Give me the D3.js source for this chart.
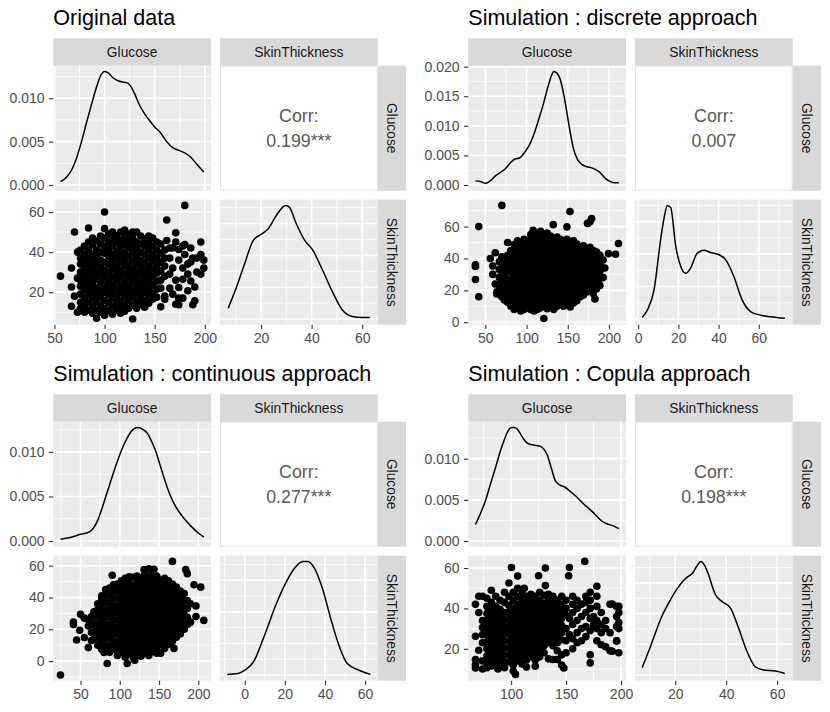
<!DOCTYPE html>
<html>
<head>
<meta charset="utf-8">
<script src="https://cdn.jsdelivr.net/npm/d3@7"></script>
<style>
  body { margin: 0; background: #fff; }
</style>
</head>
<body>
<svg id="chart" width="830" height="712"></svg>
<script>
/* ---------------- data ---------------- */
const varNames = ['Glucose', 'SkinThickness'];
const titles = ['Original data', 'Simulation : discrete approach',
                'Simulation : continuous approach', 'Simulation : Copula approach'];
const corrLabels = ['0.199***', '0.007', '0.277***', '0.198***'];

const glucoseTicks = [[50, 100, 150, 200], [50, 100, 150, 200], [50, 100, 150, 200], [100, 150, 200]];
const skinTicks    = [[20, 40, 60], [0, 20, 40, 60], [0, 20, 40, 60], [20, 40, 60]];
const densTicks    = [[0, 0.005, 0.010], [0, 0.005, 0.010, 0.015, 0.020], [0, 0.005, 0.010], [0, 0.005, 0.010]];

// scatter points, one row per Glucose value: [glucose, skin, skin, ...]
const origPts = [
  [56, 28], [67, 32, 22.6, 13], [70, 50, 18], [73, 40, 10, 27],
  [76, 41, 37, 34, 30, 26, 23, 19, 15, 12],
  [80, 43, 39, 35.5, 32, 28, 24.5, 21, 17, 13.5, 10],
  [84, 52, 45, 41, 37, 33.5, 30, 26, 22.5, 19, 15, 11],
  [88, 47, 43.5, 39, 35, 31.5, 28, 24, 20.5, 17, 13, 9.5],
  [92, 45.5, 41, 37.5, 34, 30, 26.5, 22, 18.5, 15, 11, 7],
  [96, 48, 44, 40, 36, 32.5, 29, 25, 21, 17.5, 13.5, 10],
  [100, 60, 51.7, 47, 43, 39.5, 35, 31, 27.5, 23.5, 20, 16, 12, 8.5],
  [104, 49, 45, 41.5, 38, 34, 30, 26, 22.5, 19, 15, 11],
  [108, 50, 46.5, 43, 39, 35.5, 32, 28, 24, 20.5, 17, 13, 9],
  [112, 48, 44.5, 40.5, 37, 33, 29.5, 26, 22, 18, 14.5, 11],
  [116, 50, 46, 42.5, 39, 35, 31, 27.5, 23.5, 20, 16, 12.5, 9.5],
  [120, 51, 47.5, 44, 40, 36.5, 33, 29, 25, 21.5, 18, 14, 10.5],
  [124, 49, 45.5, 42, 38, 34, 30.5, 27, 23, 19.5, 16, 12],
  [128, 50, 47, 43.5, 40, 36, 32, 28.5, 25, 21, 17.5, 13.5, 6.6],
  [132, 50, 45, 41.5, 38, 34.5, 30.5, 27, 23, 19.5, 15.5, 12],
  [136, 48, 44, 40, 36, 32.5, 29, 25, 21.5, 17.5, 14],
  [140, 46.5, 43, 39, 35, 31, 27.5, 23.5, 20, 16, 12.5],
  [144, 48, 44.5, 41, 37, 33, 29.5, 25.5, 22, 18, 14.5],
  [148, 47, 43, 39, 35.5, 31.5, 28, 24, 20, 16.5],
  [152, 45, 41, 37, 33, 29.5, 25.5, 21.5, 17.5],
  [156, 44, 39.5, 35, 30.5, 26, 22, 12.7],
  [160, 41, 37, 33, 28, 18, 16.5], [162, 56, 45.8], [165, 42, 37, 29, 22],
  [168, 32, 42, 19], [171, 49.6, 45, 26, 14], [174, 41.3, 36, 22.3, 13.7, 17],
  [178, 43, 32, 26.4, 17], [180, 63.3, 43.8, 38.8], [183, 29, 34, 20.7],
  [186, 42, 25.6, 35], [188, 13.7, 37], [190, 22.6, 15.7], [192, 37, 30],
  [196, 45, 38.8, 29], [199, 32, 36]
];
const discPts = [
  [38, 36, 35, 26.8], [42, 60, 16], [56, 40], [59, 35.3, 30], [62, 43.6, 24], [64, 17.7, 19],
  [67, 38, 33, 28, 22.5],
  [70, 73.3, 41, 36, 31, 26, 20, 16],
  [73, 39, 34, 29, 24, 18.5, 14],
  [77, 50, 42, 37, 32, 27, 22, 17, 12.5],
  [81, 45, 40.5, 36, 31.5, 27, 22.5, 18, 13.5, 10],
  [85, 48.8, 44, 39, 34.5, 30, 25.5, 21, 16.5, 12, 8],
  [89, 51, 46.5, 42, 37.5, 33, 28.5, 24, 19.5, 15, 11],
  [93, 49, 44.5, 40, 35.5, 31, 26.5, 22, 17.5, 13, 9, 7],
  [97, 52, 47.5, 43, 38.5, 34, 29.5, 25, 20.5, 16, 11.5, 8],
  [101, 50, 45.5, 41, 36.5, 32, 27.5, 23, 18.5, 14, 10],
  [105, 55, 52, 48, 43.5, 39, 34.5, 30, 25.5, 21, 16.5, 12, 8],
  [108, 57.7],
  [109, 53.5, 50, 45.5, 41, 36.5, 32, 27.5, 23, 18.5, 14, 10, 7],
  [113, 55, 51.5, 47, 43, 38.5, 34, 29.5, 25, 20.5, 16, 11.5, 8],
  [117, 57, 53, 49, 44.5, 40, 35.5, 31, 26.5, 22, 17.5, 13, 9],
  [121, 55, 51, 46.5, 42, 37.5, 33, 28.5, 24, 19.5, 15, 10.5, 2.3],
  [125, 56, 52.5, 48, 44, 39.5, 35, 30.5, 26, 21.5, 17, 12.5, 8.5],
  [129, 54, 50, 45.5, 41, 36.5, 32, 27.5, 23, 18.5, 14, 10],
  [132.4, 61.2],
  [133, 52, 48, 43.5, 39, 34.5, 30, 25.5, 21, 16.5, 12, 8],
  [137, 53.5, 50, 45.5, 41, 36.5, 32, 27.5, 23, 18.5, 14, 10],
  [141, 52, 47.5, 43, 38.5, 34, 29.5, 25, 20.5, 16, 11.5],
  [145, 50, 45.5, 41, 36.5, 32, 27.5, 23, 18.5, 14, 10],
  [149, 59.8, 52, 47.5, 43, 38.5, 34, 29.5, 25, 20.5, 16, 12],
  [152.7, 69.5],
  [153, 50, 45.5, 41, 36.5, 32, 27.5, 23, 18.5, 14, 9.5],
  [157, 51, 47.5, 43, 38.5, 34, 29.5, 25, 20.5, 16, 12],
  [161, 49, 44.5, 40, 35.5, 31, 26.5, 22, 17.5, 13.5],
  [165, 47, 42.5, 38, 33.5, 29, 24.5, 20, 16],
  [169, 48, 44, 39.5, 35, 30.5, 26, 21.5, 17],
  [173, 46, 41.5, 37, 32.5, 28, 23.5, 19], [174, 62],
  [177, 63, 47, 43, 38.5, 34, 29.5, 25, 20.5], [179, 65],
  [181, 45, 40.5, 36, 31.5, 27, 22.5, 18], [183, 14.6],
  [185, 44, 39, 34.5, 30, 25.5, 21],
  [189, 42, 37, 32, 27.5, 23], [193, 39, 34, 28], [195, 34],
  [199.4, 43], [208, 42.6], [211.6, 49.4]
];
const contPts = [
  [24.5, -8.75], [41, 24.6, 23], [45, 13.3], [49, 19.4], [50, 29.4], [55, 14.8, 27],
  [60, 8.5, 22, 26], [64, 18, 28, 13, 23],
  [67, 14, 18.5, 23, 27.5, 31],
  [72, 10, 14.5, 19, 23.5, 28, 32.5, 36],
  [77, 7.5, 12, 16.5, 21, 25.5, 30, 34.5, 39, 41],
  [80, 5.4],
  [82, 9.5, 14, 18.5, 23, 27.5, 32, 36.5, 41, 45],
  [84, -1.5],
  [87, 5.5, 10, 14.5, 19, 23.5, 28, 32.5, 37, 41.5, 46],
  [90.4, 54],
  [92, 7.5, 12, 16.5, 21, 25.5, 30, 34.5, 39, 43.5, 48],
  [97, 3.5, 8, 12.5, 17, 21.5, 26, 30.5, 35, 39.5, 44, 48.5],
  [102, 5.5, 10, 14.5, 19, 23.5, 28, 32.5, 37, 41.5, 46, 50.5],
  [107, 2.5, 7, 11.5, 16, 20.5, 25, 29.5, 34, 38.5, 43, 47.5, 52],
  [109.5, -1.5],
  [112, 4.5, 9, 13.5, 18, 22.5, 27, 31.5, 36, 40.5, 45, 49.5, 53],
  [116, 52.7],
  [117, 2.5, 7, 11.5, 16, 20.5, 25, 29.5, 34, 38.5, 43, 47.5],
  [119, 0.6],
  [122, 4.5, 9, 13.5, 18, 22.5, 27, 31.5, 36, 40.5, 45, 49.5, 53.5],
  [127, 3, 7.5, 12, 16.5, 21, 25.5, 30, 34.5, 39, 43.5, 48, 52.5],
  [131, 57.5],
  [132, 5, 9.5, 14, 18.5, 23, 27.5, 32, 36.5, 41, 45.5, 50, 54.5],
  [137, 58, 3.5, 8, 12.5, 17, 21.5, 26, 30.5, 35, 39.5, 44, 48.5, 53],
  [142, 6, 10.5, 15, 19.5, 24, 28.5, 33, 37.5, 42, 46.5, 51, 55],
  [143.5, 57.7],
  [147, 5, 8.5, 13, 17.5, 22, 26.5, 31, 35.5, 40, 44.5, 49, 53.5],
  [152, 5, 10.5, 15, 19.5, 24, 28.5, 33, 37.5, 42, 46.5, 51],
  [157, 8, 12.5, 17, 21.5, 26, 30.5, 35, 39.5, 44, 48.5, 52],
  [162, 10.5, 15, 19.5, 24, 28.5, 33, 37.5, 42, 46.5, 50.5],
  [167, 62.7, 12.5, 17, 21.5, 26, 30.5, 35, 39.5, 44, 48.5],
  [169, 8],
  [172, 15, 19.5, 24, 28.5, 33, 37.5, 42, 46.5],
  [177, 17, 21.5, 26, 30.5, 35, 39.5, 44],
  [182, 20, 24.5, 29, 33.5, 38, 42.5],
  [184, 57.5], [186, 55, 23, 27.5, 33, 38], [190, 36, 24.5], [194.5, 48],
  [197, 28, 34.6], [203, 46.5], [207, 25.6]
];
const copPts = [
  [67.6, 42, 26.2, 14.7, 12.2, 10.5], [70.6, 46, 38, 19.3],
  [74, 46, 34, 30.5, 27, 23, 14, 10],
  [78, 45, 41, 37.5, 34, 30.5, 27, 23.5, 20, 16.5, 13, 10.6],
  [82, 49, 43, 39.5, 36, 32.5, 29, 25.5, 22, 18.5, 15, 11.5],
  [86, 46, 41, 37.5, 34, 30.5, 27, 23.5, 20, 16.5, 13],
  [88, 10],
  [90, 44, 39.5, 36, 32.5, 29, 25.5, 22, 18.5, 15, 11.5],
  [94, 48, 43, 38, 34.5, 31, 27.5, 24, 20.5, 17, 13.5, 10.6],
  [98, 52.6, 46, 41.5, 38, 34.5, 31, 27.5, 24, 20.5, 17, 13.5],
  [100.3, 60.3],
  [102, 48, 44, 40, 36.5, 33, 29.5, 26, 22.5, 19, 15.5, 12, 9],
  [104, 7.3],
  [106, 56, 50, 46, 42, 38.5, 35, 31.5, 28, 24.5, 21, 17.5, 14],
  [110, 47.5, 44, 40.5, 37, 33.5, 30, 26.5, 23, 19.5, 16, 12.5],
  [112, 50],
  [114, 46, 42.5, 39, 35.5, 32, 28.5, 25, 21.5, 18, 14.5, 11],
  [118, 47, 44, 40.5, 37, 33.5, 30, 26.5, 23, 19.5, 16],
  [122, 46, 42.5, 39, 35.5, 32, 28.5, 25, 21.5, 18, 14.5, 11.4],
  [125, 56.2],
  [126, 48, 44, 40.5, 37, 33.5, 30, 26.5, 23, 19.5, 16],
  [130, 46.5, 42.5, 39, 35.5, 32, 28.5, 25, 21.5, 18],
  [131.2, 60, 51.3],
  [134, 47, 44, 40.5, 37, 33.5, 30, 26.5, 23, 15],
  [138, 46, 42.5, 39, 35.5, 32, 28.5, 25, 21.5, 14.7],
  [142, 44, 40.5, 37, 33.5, 30, 26.5, 23, 19, 14.7],
  [146, 46, 42, 38.5, 35, 31.5, 28, 24.5, 17, 12],
  [148, 10.5], [150, 44, 40, 36.5, 30, 24, 18], [152.4, 56.2], [153, 60.3, 35, 27],
  [156, 46, 42, 38, 32, 25, 20], [160, 44, 40, 34, 28, 23], [164, 42, 36, 30, 24],
  [167, 63.3], [168, 46, 43, 38, 31, 26], [172, 48, 44, 40, 35, 29, 17, 13], [175, 36, 32],
  [178, 51, 46, 41, 34, 30, 24], [182, 38, 32, 28, 22], [186, 34, 30, 21], [190, 42, 28, 19],
  [192, 42.2, 18.8], [196, 41, 36, 31, 24, 23.8], [198, 41, 38, 33, 30, 18]
];

// density curves: [value, density]
const origGlucoseDens = [
  [56, 0.0004], [62, 0.0009], [67, 0.0017], [72, 0.0031], [77, 0.005], [82, 0.0072], [87, 0.0093],
  [92, 0.0113], [96, 0.0126], [100, 0.0131], [104, 0.0129], [108, 0.0124], [112, 0.0121], [117, 0.0119],
  [122, 0.0118], [126, 0.0114], [130, 0.0105], [135, 0.0092], [140, 0.0082], [145, 0.0074], [150, 0.0067],
  [156, 0.006], [162, 0.005], [168, 0.0043], [174, 0.004], [180, 0.0037], [186, 0.0032], [192, 0.0024], [199, 0.0015]
];
const origSkinDens = [
  [7, 0.0034], [9.9, 0.0092], [13.1, 0.0164], [17, 0.0248], [20.3, 0.0267], [22.9, 0.0284], [26.1, 0.0326],
  [29.7, 0.0357], [31.3, 0.035], [33.9, 0.030], [37.2, 0.0248], [40.4, 0.0217], [44.3, 0.0154], [48.2, 0.0086],
  [52.1, 0.0029], [56, 0.0008], [60, 0.0005], [63, 0.0005]
];
const discGlucoseDens = [
  [38, 0.0007], [44, 0.0006], [50, 0.0003], [56, 0.0007], [62, 0.0015], [68, 0.0021], [74, 0.0027],
  [80, 0.0037], [86, 0.0044], [92, 0.0046], [98, 0.0056], [104, 0.0069], [110, 0.0090], [115, 0.0112],
  [120, 0.0135], [125, 0.0161], [129, 0.0180], [133, 0.0192], [137, 0.0189], [141, 0.0178], [145, 0.0154],
  [149, 0.0122], [153, 0.0089], [157, 0.0061], [162, 0.0043], [167, 0.0035], [173, 0.0031], [179, 0.0029],
  [185, 0.0025], [190, 0.0020], [195, 0.0012], [200, 0.0007], [206, 0.0004], [212, 0.0004]
];
const discSkinDens = [
  [2, 0.0005], [4.6, 0.0028], [7.9, 0.009], [11.2, 0.0245], [13, 0.0315], [14.5, 0.035], [16.2, 0.0343],
  [18.7, 0.0224], [21.2, 0.0162], [23.6, 0.0141], [26.1, 0.0157], [29.4, 0.0203], [32.7, 0.0212],
  [36, 0.0205], [40.2, 0.0198], [43.5, 0.0183], [47.6, 0.0131], [51.7, 0.0059], [55.9, 0.0023],
  [60.8, 0.0012], [65.8, 0.0007], [73, 0.0002]
];
const contGlucoseDens = [
  [24.5, 0.0002], [37, 0.0004], [50, 0.00075], [60.6, 0.001], [66, 0.0014], [71.3, 0.0022], [76, 0.0033],
  [81.9, 0.0049], [87, 0.0063], [92.5, 0.0078], [98, 0.0092], [103.2, 0.0104], [108.5, 0.0114],
  [113.8, 0.0122], [119, 0.01265], [124.4, 0.01275], [129.7, 0.0125], [135, 0.0121], [140.4, 0.0112],
  [145.7, 0.0101], [151, 0.0086], [156.3, 0.0071], [164.8, 0.005], [171, 0.0039], [177.6, 0.003],
  [184, 0.0023], [190.3, 0.0017], [200, 0.0009], [207, 0.00045]
];
const contSkinDens = [
  [-8.75, 0.0002], [-4, 0.0004], [0.3, 0.0016], [4.4, 0.0042], [9.3, 0.0116], [15.9, 0.0228],
  [20.8, 0.0296], [24.9, 0.0339], [28.9, 0.036], [31.5, 0.036], [34.7, 0.0339], [38.7, 0.0275],
  [42.8, 0.018], [46.9, 0.0095], [51, 0.0037], [56.7, 0.0016], [62.7, 0.0002]
];
const copGlucoseDens = [
  [67.6, 0.002], [72, 0.0033], [76.7, 0.0049], [81, 0.0068], [85.8, 0.0089], [89.5, 0.0106], [93.3, 0.0121],
  [97, 0.0133], [100.3, 0.0138], [103, 0.0138], [105.5, 0.0136], [109, 0.0129], [113, 0.0121], [116, 0.0118],
  [119.1, 0.0117], [123, 0.0116], [126.7, 0.0115], [129.5, 0.0112], [132.7, 0.0105], [136.5, 0.0089],
  [140.3, 0.0073], [144.5, 0.0068], [149.4, 0.0065], [154, 0.006], [158.5, 0.0055], [166, 0.0045],
  [173.6, 0.0036], [178, 0.003], [182.7, 0.0024], [187, 0.0021], [191.8, 0.0019], [198, 0.0015]
];
const copSkinDens = [
  [7, 0.0024], [10.5, 0.0098], [14.4, 0.0185], [17.7, 0.0239], [20.9, 0.0283], [24.2, 0.0316],
  [26.8, 0.0332], [28.5, 0.0355], [30, 0.037], [31.3, 0.036], [32.6, 0.0337], [35.8, 0.0261],
  [38.4, 0.0239], [41.7, 0.0218], [44.9, 0.0152], [48.2, 0.0076], [51.4, 0.0027], [54.7, 0.0016],
  [59.2, 0.0013], [63, 0.0005]
];

/* ---------------- layout / style ---------------- */
const FONT = '"Liberation Sans", Arial, Helvetica, sans-serif';
const L = { stripTop: 38.3, stripH: 27.4, panelH: 125, gapY: 9,
            panelLeft: 53.3, panelW: 157.7, gapX: 9, stripW: 28.3 };
const C = { panel: '#EBEBEB', strip: '#D9D9D9', stripText: '#1A1A1A',
            axisText: '#4D4D4D', tick: '#333333', corr: '#595959' };
const PT_R = 3.8;

const svg = d3.select('#chart');
let clipId = 0;

const expand = (ext, f = 0.05) => { const r = ext[1] - ext[0]; return [ext[0] - r * f, ext[1] + r * f]; };

function minorBreaks(maj, dom) {
  const h = maj[1] - maj[0], out = [];
  for (let i = -1; i < maj.length; i++) {
    const v = maj[0] + h * (i + 0.5);
    if (v >= dom[0] && v <= dom[1]) out.push(v);
  }
  return out;
}

function styleAxis(a) {
  a.select('.domain').remove();
  a.selectAll('.tick line').attr('stroke', C.tick).attr('stroke-width', 1.1);
  a.selectAll('.tick text').attr('fill', C.axisText)
    .style('font-size', '14px').style('font-family', FONT);
}

function drawPair(c) {
  const g = svg.append('g').attr('transform', `translate(${c.x0},${c.y0})`);
  const pts = c.cols.flatMap(r => r.slice(1).map(s => [r[0], s]));

  const gDom = expand(d3.extent(pts.map(p => p[0]).concat(c.densG.map(d => d[0]))));
  const sDom = expand(d3.extent(pts.map(p => p[1]).concat(c.densS.map(d => d[0]))));
  const cx = [L.panelLeft, L.panelLeft + L.panelW + L.gapX];
  const ry = [L.stripTop + L.stripH, L.stripTop + L.stripH + L.panelH + L.gapY];

  const xG = d3.scaleLinear().domain(gDom).range([cx[0], cx[0] + L.panelW]);
  const xS = d3.scaleLinear().domain(sDom).range([cx[1], cx[1] + L.panelW]);
  const yS = d3.scaleLinear().domain(sDom).range([ry[1] + L.panelH, ry[1]]);
  const maxG = d3.max(c.densG, d => d[1]), maxS = d3.max(c.densS, d => d[1]);
  const yDG = d3.scaleLinear().domain([-0.05 * maxG, 1.05 * maxG]).range([ry[0] + L.panelH, ry[0]]);
  const yDS = d3.scaleLinear().domain([-0.05 * maxS, 1.05 * maxS]).range([ry[1] + L.panelH, ry[1]]);

  // a grey panel with its grid; returns a clipped layer for data marks
  function panel(px, py, xs, xMaj, ys, yMaj) {
    const p = g.append('g');
    p.append('rect').attr('x', px).attr('y', py).attr('width', L.panelW).attr('height', L.panelH).attr('fill', C.panel);
    const xMin = minorBreaks(xMaj, xs.domain()), yMin = minorBreaks(yMaj, ys.domain());
    const inX = xMaj.filter(v => v >= xs.domain()[0] && v <= xs.domain()[1]);
    const inY = yMaj.filter(v => v >= ys.domain()[0] && v <= ys.domain()[1]);
    const grid = (vals, w, vertical) => p.selectAll(null).data(vals).join('line')
      .attr('x1', d => vertical ? xs(d) : px).attr('x2', d => vertical ? xs(d) : px + L.panelW)
      .attr('y1', d => vertical ? py : ys(d)).attr('y2', d => vertical ? py + L.panelH : ys(d))
      .attr('stroke', '#fff').attr('stroke-width', w);
    grid(yMin, 0.8, false); grid(xMin, 0.8, true);
    grid(inY, 1.6, false); grid(inX, 1.6, true);
    const id = 'clip' + (clipId++);
    g.append('clipPath').attr('id', id).append('rect')
      .attr('x', px).attr('y', py).attr('width', L.panelW).attr('height', L.panelH);
    return g.append('g').attr('clip-path', `url(#${id})`);
  }

  const line = (xs, ys) => d3.line().x(d => xs(d[0])).y(d => ys(d[1])).curve(d3.curveMonotoneX);

  // Glucose density
  panel(cx[0], ry[0], xG, c.gTicks, yDG, c.dTicks)
    .append('path').datum(c.densG).attr('d', line(xG, yDG))
    .attr('fill', 'none').attr('stroke', '#000').attr('stroke-width', 1.5);

  // scatter
  panel(cx[0], ry[1], xG, c.gTicks, yS, c.sTicks)
    .selectAll('circle').data(pts).join('circle')
    .attr('cx', d => xG(d[0])).attr('cy', d => yS(d[1])).attr('r', PT_R).attr('fill', '#000');

  // SkinThickness density
  panel(cx[1], ry[1], xS, c.sTicks, yDS, yDS.ticks(4))
    .append('path').datum(c.densS).attr('d', line(xS, yDS))
    .attr('fill', 'none').attr('stroke', '#000').attr('stroke-width', 1.5);

  // correlation panel
  g.append('rect').attr('x', cx[1] + 0.5).attr('y', ry[0] + 0.5)
    .attr('width', L.panelW - 1).attr('height', L.panelH - 1)
    .attr('fill', '#fff').attr('stroke', '#E6E6E6').attr('stroke-width', 1);
  const ccx = cx[1] + L.panelW / 2, ccy = ry[0] + L.panelH / 2;
  const corrG = g.append('g').attr('text-anchor', 'middle').attr('fill', C.corr)
    .style('font-size', '17.8px').style('font-family', FONT);
  corrG.append('text').attr('x', ccx).attr('y', ccy - 6).text('Corr:');
  corrG.append('text').attr('x', ccx).attr('y', ccy + 19).text(c.corr);

  // strips
  varNames.forEach((v, i) => {
    g.append('rect').attr('x', cx[i]).attr('y', L.stripTop).attr('width', L.panelW).attr('height', L.stripH).attr('fill', C.strip);
    g.append('text').attr('x', cx[i] + L.panelW / 2).attr('y', L.stripTop + L.stripH / 2).attr('dy', '0.35em')
      .attr('text-anchor', 'middle').attr('fill', C.stripText).style('font-size', '13.8px').style('font-family', FONT).text(v);
    const sx = cx[1] + L.panelW;
    g.append('rect').attr('x', sx).attr('y', ry[i]).attr('width', L.stripW).attr('height', L.panelH).attr('fill', C.strip);
    g.append('text').attr('transform', `translate(${sx + L.stripW / 2},${ry[i] + L.panelH / 2}) rotate(90)`).attr('dy', '0.35em')
      .attr('text-anchor', 'middle').attr('fill', C.stripText).style('font-size', '13.8px').style('font-family', FONT).text(v);
  });

  // axes
  g.append('g').attr('transform', `translate(${cx[0]},0)`)
    .call(d3.axisLeft(yDG).tickValues(c.dTicks).tickFormat(d3.format('.3f')).tickSize(4.4).tickPadding(4.4)).call(styleAxis);
  g.append('g').attr('transform', `translate(${cx[0]},0)`)
    .call(d3.axisLeft(yS).tickValues(c.sTicks).tickFormat(d3.format('d')).tickSize(4.4).tickPadding(4.4)).call(styleAxis);
  const base = ry[1] + L.panelH;
  g.append('g').attr('transform', `translate(0,${base})`)
    .call(d3.axisBottom(xG).tickValues(c.gTicks).tickFormat(d3.format('d')).tickSize(4.4).tickPadding(3.5)).call(styleAxis);
  g.append('g').attr('transform', `translate(0,${base})`)
    .call(d3.axisBottom(xS).tickValues(c.sTicks).tickFormat(d3.format('d')).tickSize(4.4).tickPadding(3.5)).call(styleAxis);

  // title
  g.append('text').attr('x', L.panelLeft).attr('y', 25).attr('fill', '#000')
    .style('font-size', '21.5px').style('font-family', FONT).text(c.title);
}

const pairs = [
  { x0: 0,   y0: 0,   cols: origPts, densG: origGlucoseDens, densS: origSkinDens },
  { x0: 415, y0: 0,   cols: discPts, densG: discGlucoseDens, densS: discSkinDens },
  { x0: 0,   y0: 356, cols: contPts, densG: contGlucoseDens, densS: contSkinDens },
  { x0: 415, y0: 356, cols: copPts,  densG: copGlucoseDens,  densS: copSkinDens }
];
pairs.forEach((p, i) => drawPair(Object.assign(p, {
  title: titles[i], corr: corrLabels[i],
  gTicks: glucoseTicks[i], sTicks: skinTicks[i], dTicks: densTicks[i]
})));
</script>
</body>
</html>
